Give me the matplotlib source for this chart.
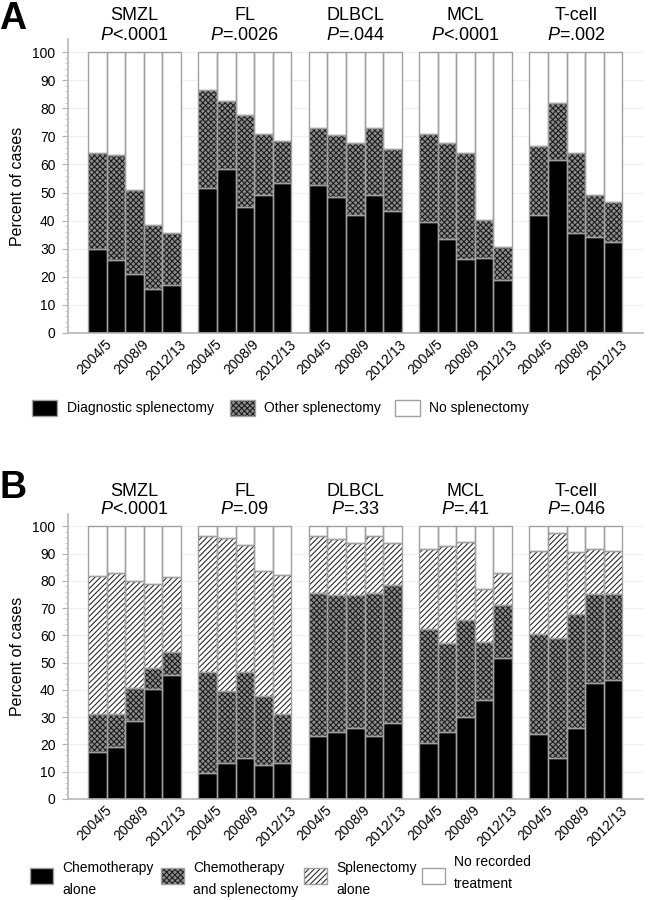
import numpy as np
import matplotlib.pyplot as plt
from matplotlib import font_manager
from matplotlib.patches import Rectangle
from matplotlib.transforms import ScaledTranslation

plt.rcParams['font.family'] = ['Liberation Sans', 'DejaVu Sans']
plt.rcParams['mathtext.fontset'] = 'custom'
plt.rcParams['mathtext.it'] = 'Liberation Sans:italic'
plt.rcParams['mathtext.rm'] = 'Liberation Sans'
plt.rcParams['hatch.linewidth'] = 0.75

installed = {f.name for f in font_manager.fontManager.ttflist}
if 'Liberation Sans Narrow' in installed:
    LEG_FONT, LEG_SIZE = ['Liberation Sans Narrow', 'DejaVu Sans'], 11
else:
    LEG_FONT, LEG_SIZE = ['Liberation Sans', 'DejaVu Sans'], 10

# categories
groups = ['SMZL', 'FL', 'DLBCL', 'MCL', 'T-cell']
years = ['2004/5', '2006/7', '2008/9', '2010/11', '2012/13']
pvals_a = ['<.0001', '=.0026', '=.044', '<.0001', '=.002']
pvals_b = ['<.0001', '=.09', '=.33', '=.41', '=.046']

# panel A, top of each stacked segment (percent)
a_diag = [[30, 26, 21, 15.5, 17],
          [51.5, 58.5, 45, 49, 53.5],
          [52.5, 48.4, 42.1, 49.1, 43.3],
          [39.5, 33.6, 26.3, 26.7, 19],
          [42.1, 61.4, 35.6, 34.2, 32.3]]
a_other = [[64, 63.5, 51, 38.5, 35.5],
           [86.5, 82.5, 77.5, 71, 68.5],
           [73, 70.3, 67.7, 72.8, 65.5],
           [70.8, 67.7, 64.1, 40.2, 30.5],
           [66.5, 82, 64.1, 49, 46.6]]
a_labels = ['Diagnostic splenectomy', 'Other splenectomy', 'No splenectomy']

# panel B, top of each stacked segment (percent)
b_chemo = [[17.3, 18.9, 28.7, 40.5, 45.5],
           [9.6, 13.1, 15.1, 12.3, 13.3],
           [23, 24.7, 25.9, 23.2, 27.8],
           [20.4, 24.7, 29.9, 36.4, 51.8],
           [23.8, 15, 26.1, 42.4, 43.8]]
b_chemo_spl = [[31, 31, 40.8, 48.1, 54],
               [46.6, 39.7, 46.4, 37.9, 31.1],
               [75.6, 74.7, 74.7, 75.7, 78.4],
               [62.3, 57.1, 65.8, 57.4, 71.1],
               [60.4, 58.9, 67.8, 75.3, 75.3]]
b_spl = [[81.8, 83, 80, 79, 81.3],
         [96.5, 95.8, 93, 83.5, 82.1],
         [96.5, 95.5, 94, 96.3, 93.7],
         [91.8, 92.8, 94.3, 76.9, 82.7],
         [91, 97.7, 90.6, 91.8, 91]]
b_labels = ['Chemotherapy\nalone', 'Chemotherapy\nand splenectomy',
            'Splenectomy\nalone', 'No recorded\ntreatment']

W, H = 649, 900
EDGE = '#a0a0a0'
solid = dict(facecolor='black', hatch=None, hc='black')
check = dict(facecolor='#8c8c8c', hatch='xxxxxx', hc='#1a1a1a')
diag = dict(facecolor='white', hatch='//////', hc='#202020')
blank = dict(facecolor='white', hatch=None, hc='white')

pitch = 5.93
x0 = 1.575


def fx(x):
    return x / W


def fy(y):
    return 1 - y / H


def draw_panel(ax, tops, styles, pvals):
    for g in range(len(groups)):
        xs = x0 + g * pitch + np.arange(len(years))
        bottom = np.zeros(len(years))
        for k, st in enumerate(styles):
            top = np.array(tops[k][g]) if k < len(tops) else np.full(len(years), 100.0)
            ax.bar(xs, top - bottom, bottom=bottom, width=1, color=st['facecolor'],
                   hatch=st['hatch'], edgecolor=st['hc'], linewidth=0, zorder=2)
            ax.bar(xs, top - bottom, bottom=bottom, width=1, fill=False,
                   edgecolor=EDGE, linewidth=1, zorder=3)
            bottom = top
        cx = xs.mean()
        ax.text(cx, 112.9, groups[g], ha='center', va='center', fontsize=13, clip_on=False)
        ax.text(cx, 106, '$P$' + pvals[g], ha='center', va='center', fontsize=13, clip_on=False)

    ax.set_xlim(0, 30.9)
    ax.set_ylim(0, 104.5)
    ax.set_yticks(np.arange(0, 101, 10))
    ax.set_yticks(np.arange(0, 101, 2), minor=True)
    ax.tick_params(axis='y', which='major', length=4, color='#b0b0b0', labelsize=10, pad=5)
    ax.tick_params(axis='y', which='minor', length=2, color='#c0c0c0')
    ticks = [x0 + g * pitch + j for g in range(len(groups)) for j in (0, 2, 4)]
    ax.set_xticks(ticks)
    ax.set_xticklabels([years[j] for g in range(len(groups)) for j in (0, 2, 4)])
    ax.tick_params(axis='x', length=0, pad=3, labelsize=10)
    off = ScaledTranslation(7 / 100, 0, ax.figure.dpi_scale_trans)
    for lab in ax.get_xticklabels():
        lab.set_rotation(45)
        lab.set_ha('right')
        lab.set_va('top')
        lab.set_rotation_mode('anchor')
        lab.set_transform(lab.get_transform() + off)
    for s in ('top', 'right'):
        ax.spines[s].set_visible(False)
    for s in ('left', 'bottom'):
        ax.spines[s].set_color('#b8b8b8')
        ax.spines[s].set_linewidth(1.2)
    ax.grid(axis='y', color='#f0f0f0', linewidth=0.8, zorder=0)
    ax.set_axisbelow(True)
    ax.set_ylabel('Percent of cases', fontsize=11.5)
    ax.yaxis.set_label_coords((17 - 68) / 575, 0.5)
    ax.yaxis.label.set_va('center')


def legend_item(fig, px, py, w, h, st, tx, label, ty):
    fig.add_artist(Rectangle((fx(px), fy(py + h / 2)), w / W, h / H, transform=fig.transFigure,
                             facecolor=st['facecolor'], hatch=st['hatch'], edgecolor=st['hc'],
                             linewidth=0))
    fig.add_artist(Rectangle((fx(px), fy(py + h / 2)), w / W, h / H, transform=fig.transFigure,
                             fill=False, edgecolor=EDGE, linewidth=1))
    fig.text(fx(tx), fy(ty), label, ha='left', va='center', fontsize=LEG_SIZE,
             family=LEG_FONT, linespacing=1.65)


fig = plt.figure(figsize=(W / 100, H / 100), dpi=100)
axA = fig.add_axes([fx(68), fy(333), 575 / W, (333 - 39.4) / H])
axB = fig.add_axes([fx(68), fy(799), 575 / W, (799 - 514) / H])

draw_panel(axA, [a_diag, a_other], [solid, check, blank], pvals_a)
draw_panel(axB, [b_chemo, b_chemo_spl, b_spl], [solid, check, diag, blank], pvals_b)

fig.text(fx(13), fy(19), 'A', fontsize=27, fontweight='bold', ha='center', va='center')
fig.text(fx(13), fy(488), 'B', fontsize=27, fontweight='bold', ha='center', va='center')

for st, px, tx, lab in zip([solid, check, blank], [32, 230, 395], [67, 264, 429], a_labels):
    legend_item(fig, px, 408, 25, 15, st, tx, lab, 408)

for st, px, tx, lab, ty in zip([solid, check, diag, blank], [30, 161, 304, 422],
                               [62, 193, 336, 454], b_labels, [879, 879, 879, 873]):
    legend_item(fig, px, 876, 23, 16, st, tx, lab, ty)

fig.savefig('out.png', dpi=100)
